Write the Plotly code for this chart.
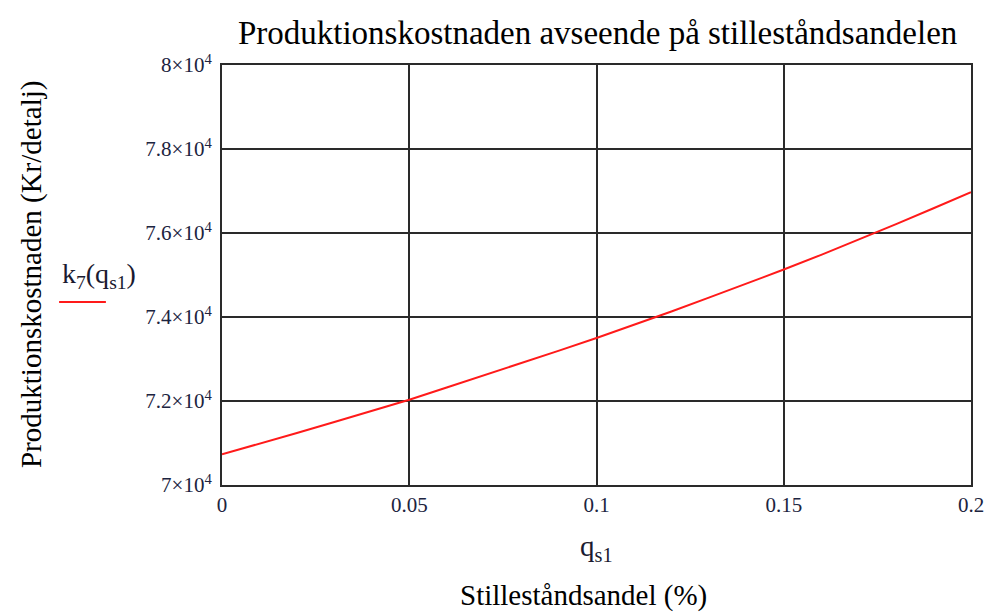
import plotly.graph_objects as go

# Stillestandsandel q_s1 and production cost k7(q_s1) in Kr/detalj
q_s1 = [0.00, 0.01, 0.02, 0.03, 0.04, 0.05, 0.06, 0.07, 0.08, 0.09, 0.10,
        0.11, 0.12, 0.13, 0.14, 0.15, 0.16, 0.17, 0.18, 0.19, 0.20]
k7 = [70730, 70980, 71240, 71500, 71770, 72030, 72320, 72610, 72900, 73200, 73500,
      73810, 74130, 74460, 74790, 75130, 75480, 75840, 76210, 76590, 76970]

y_ticks = [70000, 72000, 74000, 76000, 78000, 80000]
y_ticktext = ["7×10<sup>4</sup>", "7.2×10<sup>4</sup>", "7.4×10<sup>4</sup>",
              "7.6×10<sup>4</sup>", "7.8×10<sup>4</sup>", "8×10<sup>4</sup>"]
x_ticks = [0, 0.05, 0.1, 0.15, 0.2]
x_ticktext = ["0", "0.05", "0.1", "0.15", "0.2"]

SERIF = "Liberation Serif, Times New Roman, serif"
TICK_COLOR = "#1c2440"
GRID = "#2a2a2a"

fig = go.Figure()
fig.add_trace(go.Scatter(
    x=q_s1, y=k7, mode="lines",
    line=dict(color="#ff1a1a", width=2),
    showlegend=False, hoverinfo="skip",
))

axis_common = dict(
    showgrid=True, gridcolor=GRID, gridwidth=2,
    showline=True, linecolor=GRID, linewidth=2, mirror=True,
    zeroline=False, ticks="",
)

fig.update_xaxes(range=[0, 0.2], tickvals=x_ticks, ticktext=x_ticktext,
                 ticklabelstandoff=0,
                 tickfont=dict(family=SERIF, size=21, color=TICK_COLOR),
                 **axis_common)
fig.update_yaxes(range=[70000, 80000], tickvals=y_ticks, ticktext=y_ticktext,
                 ticklabelstandoff=4,
                 tickfont=dict(family=SERIF, size=21, color=TICK_COLOR),
                 **axis_common)

fig.update_layout(
    width=996, height=615,
    margin=dict(l=222, r=20, t=65, b=130),
    paper_bgcolor="white", plot_bgcolor="white",
    font=dict(family=SERIF, color="black"),
    title=dict(
        text="Produktionskostnaden avseende på stilleståndsandelen",
        x=0.6, xanchor="center", y=0.948, yanchor="middle",
        font=dict(family=SERIF, size=33, color="black"),
    ),
    annotations=[
        dict(text="Produktionskostnaden (Kr/detalj)", textangle=-90,
             xref="paper", yref="paper", x=-0.255, y=0.5,
             xanchor="center", yanchor="middle", showarrow=False,
             font=dict(family=SERIF, size=29, color="black")),
        dict(text="k<sub>7</sub>(q<sub>s1</sub>)",
             xref="paper", yref="paper", x=-0.164, y=0.5,
             xanchor="center", yanchor="middle", showarrow=False,
             font=dict(family=SERIF, size=28, color="#1a1a30")),
        dict(text="q<sub>s1</sub>",
             xref="paper", yref="paper", x=0.5, y=-0.15,
             xanchor="center", yanchor="middle", showarrow=False,
             font=dict(family=SERIF, size=29, color="#1a1a30")),
        dict(text="Stilleståndsandel (%)",
             xref="paper", yref="paper", x=0.483, y=-0.262,
             xanchor="center", yanchor="middle", showarrow=False,
             font=dict(family=SERIF, size=29, color="black")),
    ],
    shapes=[
        dict(type="line", xref="paper", yref="paper",
             x0=-0.2175, x1=-0.155, y0=0.436, y1=0.436,
             line=dict(color="#ff1a1a", width=2)),
    ],
)

fig.write_html("out.html")
